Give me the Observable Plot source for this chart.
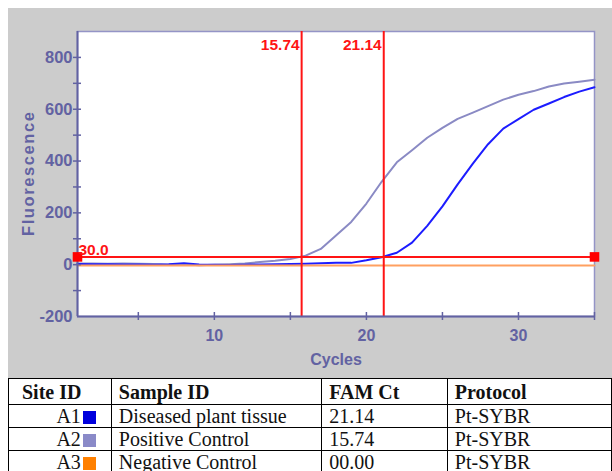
<!DOCTYPE html>
<html><head><meta charset="utf-8">
<script src="https://cdn.jsdelivr.net/npm/d3@7"></script>
<script src="https://cdn.jsdelivr.net/npm/@observablehq/plot@0.6"></script>
<style>
html,body{margin:0;padding:0;background:#fff;overflow:hidden}
body{width:612px;height:471px;position:relative;font-family:"Liberation Sans",Arial,sans-serif}
#chart{position:absolute;left:8px;top:8px}
table{position:absolute;left:8px;top:378px;border-collapse:collapse;table-layout:fixed;font-family:"Liberation Serif","Times New Roman",serif;font-size:20px;color:#111;background:#fff}
td,th{border:1px solid #000;padding:0 0 0 7px;height:22px;line-height:22px;text-align:left;white-space:nowrap;overflow:hidden}
th{height:25px;font-weight:bold}
td.site{text-align:right;padding:0 15px 0 0}
th.site{padding-left:13px}
.sw{display:inline-block;width:13px;height:13px;margin-left:2px;vertical-align:-1px}
</style></head><body>
<div id="chart"></div>
<table id="tbl"></table>
<script>
// ---- data ----
const cycles = [1,2,3,4,5,6,7,8,9,10,11,12,13,14,15,16,17,18,19,20,21,22,23,24,25,26,27,28,29,30,31,32,33,34,35];
const a1Values = [3,2,2,1,1,0,2,6,1,0,-1,0,1,2,3,4,6,7,7,17,29,46,85,150,225,310,390,465,525,562,598,622,647,668,685];
const a2Values = [5,5,4,5,4,3,0,2,-2,0,2,5,10,15,22,35,61,113,165,236,320,395,442,490,528,563,587,612,637,656,670,688,699,706,714];
const a3Values = [-3,-3,-3,-3,-3,-3,-3,-3,-3,-3,-3,-3,-3,-3,-3,-3,-3,-3,-3,-3,-3,-3,-3,-3,-3,-3,-3,-3,-3,-3,-3,-3,-3,-3,-3];
const ctValues = [15.74, 21.14];
const ctLabels = ["15.74", "21.14"];
const threshold = 30;
const thresholdLabel = "30.0";
const xDomain = [1, 35];
const yDomain = [-200, 900];
const xTicks = [5,10,15,20,25,30,35];
const xTickLabels = [10,20,30];
const yTicks = [-100,0,100,200,300,400,500,600,700,800];
const yTickLabels = [-200,0,200,400,600,800];
const xTitle = "Cycles";
const yTitle = "Fluorescence";

// table data
const siteIds = ["A1","A2","A3"];
const sampleIds = ["Diseased plant tissue","Positive Control","Negative Control"];
const famCt = ["21.14","15.74","00.00"];
const protocols = ["Pt-SYBR","Pt-SYBR","Pt-SYBR"];
const headers = ["Site ID","Sample ID","FAM Ct","Protocol"];
const swatches = ["#0000dd","#8a8ac8","#ff8000"];

// ---- styles ----
const axisColor = "#6262a2";
const red = "#ff1414";
const lineColors = ["#1c1cff","#8a8ac4","#ffa060"];

const toRows = vals => cycles.map((c, i) => ({cycle: c, value: vals[i]}));
const ctRows = ctValues.map((v, i) => ({x: v, label: ctLabels[i]}));
const endRows = xDomain.map(x => ({x, y: threshold}));

const chart = Plot.plot({
  width: 604, height: 370,
  marginLeft: 69, marginRight: 18, marginTop: 23, marginBottom: 62,
  style: {background: "#cccccc", fontFamily: "Liberation Sans, Arial, sans-serif", overflow: "visible"},
  x: {domain: xDomain},
  y: {domain: yDomain},
  marks: [
    Plot.frame({fill: "white", stroke: "#9494c6", strokeWidth: 1.5}),
    Plot.line(toRows(a2Values), {x: "cycle", y: "value", stroke: lineColors[1], strokeWidth: 2}),
    Plot.line(toRows(a1Values), {x: "cycle", y: "value", stroke: lineColors[0], strokeWidth: 2}),
    Plot.line(toRows(a3Values), {x: "cycle", y: "value", stroke: lineColors[2], strokeWidth: 2}),
    Plot.ruleY([threshold], {stroke: red, strokeWidth: 2}),
    Plot.ruleX(ctValues, {stroke: red, strokeWidth: 2}),
    // axis lines
    Plot.ruleX([xDomain[0]], {stroke: axisColor, strokeWidth: 2}),
    Plot.ruleY([yDomain[0]], {stroke: axisColor, strokeWidth: 2}),
    // crossing ticks
    Plot.ruleY(yTicks, {x1: xDomain[0], x2: xDomain[0], insetLeft: -4, insetRight: -4, stroke: axisColor, strokeWidth: 1.5}),
    Plot.ruleX(xTicks, {y1: yDomain[0], y2: yDomain[0], insetTop: -4, insetBottom: -4, stroke: axisColor, strokeWidth: 1.5}),
    Plot.dot(endRows, {x: "x", y: "y", symbol: "square", r: 5.4, fill: "#ff0000"}),
    Plot.text([{x: xDomain[0], y: threshold, label: thresholdLabel}], {x: "x", y: "y", text: "label", textAnchor: "start", lineAnchor: "bottom", dx: 1, dy: -2, fill: red, fontSize: 15.5, fontWeight: "bold"}),
    Plot.text(ctRows, {x: "x", text: "label", frameAnchor: "top", textAnchor: "end", lineAnchor: "middle", dx: -2, dy: 14, fill: red, fontSize: 15.5, fontWeight: "bold"}),
    Plot.axisY(yTickLabels, {tickSize: 0, tickPadding: 5, fontSize: 16.5, fontWeight: "bold", fill: axisColor, label: null, tickFormat: d => String(d)}),
    Plot.axisX(xTickLabels, {tickSize: 0, tickPadding: 13, fontSize: 16, fontWeight: "bold", fill: axisColor, label: null, tickFormat: d => String(d)}),
    Plot.text([xTitle], {frameAnchor: "bottom", textAnchor: "middle", dy: 48, fontSize: 16, fontWeight: "bold", fill: axisColor}),
    Plot.text([yTitle], {frameAnchor: "left", textAnchor: "middle", lineAnchor: "middle", dx: -49, rotate: -90, fontSize: 16.5, fontWeight: "bold", fill: axisColor})
  ]
});
chart.querySelectorAll("text").forEach(t => {
  if (t.textContent === yTitle) { t.setAttribute("textLength", "124"); t.setAttribute("lengthAdjust", "spacing"); }
});
document.getElementById("chart").appendChild(chart);

// ---- table ----
const tbl = document.getElementById("tbl");
const colWidths = [105, 213, 129, 170];
const cg = document.createElement("colgroup");
colWidths.forEach(w => { const c = document.createElement("col"); c.style.width = w + "px"; cg.appendChild(c); });
tbl.appendChild(cg);
const hr = document.createElement("tr");
headers.forEach((h, i) => { const th = document.createElement("th"); th.textContent = h; if (i === 0) th.className = "site"; hr.appendChild(th); });
tbl.appendChild(hr);
siteIds.forEach((s, i) => {
  const tr = document.createElement("tr");
  const td0 = document.createElement("td"); td0.className = "site";
  td0.appendChild(document.createTextNode(s));
  const sw = document.createElement("span"); sw.className = "sw"; sw.style.background = swatches[i]; td0.appendChild(sw);
  tr.appendChild(td0);
  [sampleIds[i], famCt[i], protocols[i]].forEach(v => { const td = document.createElement("td"); td.textContent = v; tr.appendChild(td); });
  tbl.appendChild(tr);
});
</script>
</body></html>
